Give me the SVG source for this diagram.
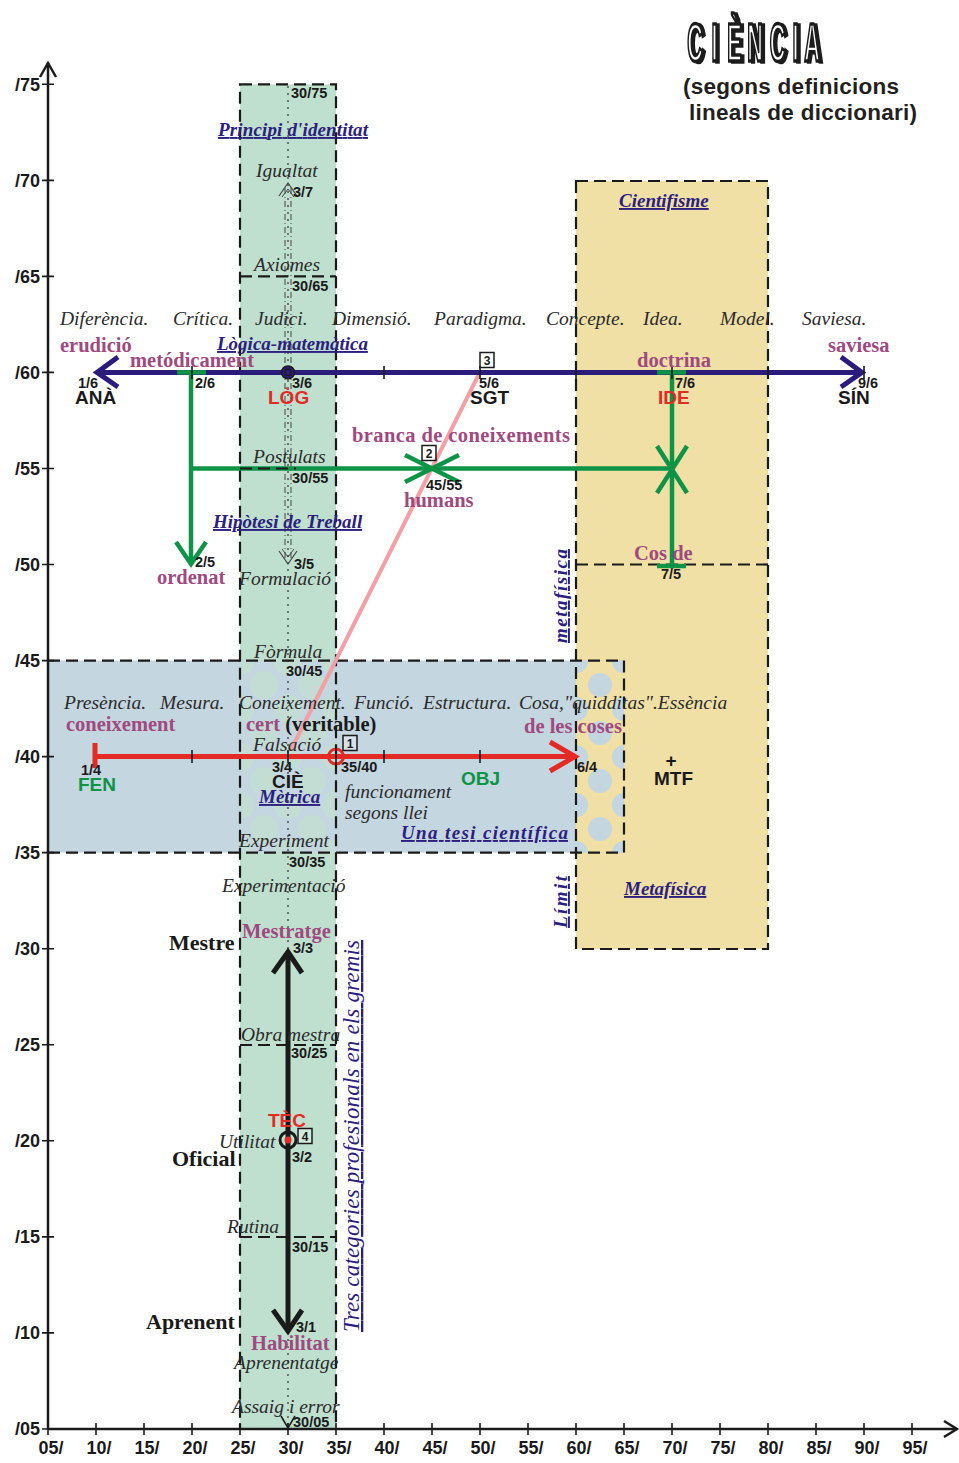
<svg xmlns="http://www.w3.org/2000/svg" width="959" height="1463" viewBox="0 0 959 1463">
<defs>
<style>
.it{font-family:'Liberation Serif','Times New Roman',serif;font-style:italic;font-size:19.5px;fill:#2b2b2b}
.pu{font-family:'Liberation Serif','Times New Roman',serif;font-weight:bold;font-size:20.5px;fill:#9f4a7f}
.nv{font-family:'Liberation Serif','Times New Roman',serif;font-weight:bold;font-style:italic;font-size:19px;fill:#2b2080;text-decoration:underline}
.bk{font-family:'Liberation Serif','Times New Roman',serif;font-weight:bold;font-size:22px;fill:#1a1a1a}
.co{font-family:'Liberation Sans',Arial,sans-serif;font-weight:bold;font-size:14.5px;fill:#1a1a1a}
.ab{font-family:'Liberation Sans',Arial,sans-serif;font-weight:bold;font-size:19px}
.ax{font-family:'Liberation Sans',Arial,sans-serif;font-weight:bold;font-size:18px;fill:#1a1a1a}
.bx{font-family:'Liberation Sans',Arial,sans-serif;font-weight:bold;font-size:12px;fill:#1a1a1a}
.dash{fill:none;stroke:#1a1a1a;stroke-width:2.2;stroke-dasharray:12 6}
.tick{stroke:#1a1a1a;stroke-width:1.6}
.navy{stroke:#2b1b7b;stroke-width:5;fill:none}
.grn{stroke:#0d9447;stroke-width:4.5;fill:none}
.red{stroke:#e42a25;stroke-width:5;fill:none}
.blk{stroke:#1a1a1a;stroke-width:5;fill:none}
.ttl{font-family:'Liberation Sans',Arial,sans-serif;font-weight:bold;font-size:54px;text-anchor:middle}
.sq{fill:#ffffff;fill-opacity:0.3;stroke:#1a1a1a;stroke-width:1.5}
</style>
<filter id="shadow" x="-10%" y="-30%" width="130%" height="160%">
<feOffset in="SourceAlpha" dx="7" dy="1" result="off"/>
<feFlood flood-color="#1a1a1a"/>
<feComposite in2="off" operator="in" result="sh"/>
<feMerge><feMergeNode in="sh"/><feMergeNode in="SourceGraphic"/></feMerge>
</filter>
<pattern id="dotsY" patternUnits="userSpaceOnUse" x="576" y="661" width="48" height="48">
<rect width="48" height="48" fill="#f0e0a6"/>
<circle cx="24" cy="24" r="12" fill="#c4d6df"/>
<circle cx="0" cy="0" r="12" fill="#c4d6df"/>
<circle cx="48" cy="0" r="12" fill="#c4d6df"/>
<circle cx="0" cy="48" r="12" fill="#c4d6df"/>
<circle cx="48" cy="48" r="12" fill="#c4d6df"/>
</pattern>
<pattern id="dotsG" patternUnits="userSpaceOnUse" x="240" y="661" width="48" height="48">
<rect width="48" height="48" fill="#c4d6df"/>
<circle cx="24" cy="24" r="14" fill="#c3ddd5"/>
<circle cx="0" cy="0" r="14" fill="#c3ddd5"/>
<circle cx="48" cy="0" r="14" fill="#c3ddd5"/>
<circle cx="0" cy="48" r="14" fill="#c3ddd5"/>
<circle cx="48" cy="48" r="14" fill="#c3ddd5"/>
</pattern>
</defs>
<rect width="959" height="1463" fill="#ffffff"/>

<g id="areas">
<rect id="green-column" x="240" y="84.3" width="96" height="1344.7" fill="#bfe0cf"/>
<rect id="yellow-box" x="576" y="181" width="192" height="768" fill="#f0e0a6"/>
<rect id="blue-box" x="48" y="660.6" width="576" height="192" fill="#c4d6df"/>
<rect x="576" y="660.6" width="48" height="192" fill="url(#dotsY)"/>
<rect x="240" y="660.6" width="96" height="192" fill="url(#dotsG)"/>
</g>

<g id="center-axis">
<line x1="288" y1="86" x2="288" y2="1427" stroke="#333" stroke-width="1.2" stroke-dasharray="2 5"/>
<line x1="285" y1="188" x2="285" y2="558" stroke="#444" stroke-width="1" stroke-dasharray="6 3 1 3"/>
<line x1="291" y1="188" x2="291" y2="558" stroke="#444" stroke-width="1" stroke-dasharray="6 3 1 3"/>
<polyline points="279,196 288,183 297,196" fill="none" stroke="#444" stroke-width="1.2"/>
<polyline points="282,197 288,189 294,197" fill="none" stroke="#444" stroke-width="1"/>
<polyline points="279,551 288,564 297,551" fill="none" stroke="#444" stroke-width="1.2"/>
<polyline points="282,549 288,557 294,549" fill="none" stroke="#444" stroke-width="1"/>
<polyline points="281,1416 288,1428 295,1416" fill="none" stroke="#1a1a1a" stroke-width="1.5"/>
</g>

<g id="borders">
<rect class="dash" x="240" y="84.3" width="96" height="1344.7"/>
<line class="dash" x1="240" y1="276.4" x2="336" y2="276.4"/>
<line class="dash" x1="240" y1="1045" x2="336" y2="1045"/>
<line class="dash" x1="240" y1="1237" x2="336" y2="1237"/>
<rect class="dash" x="576" y="181" width="192" height="768"/>
<line class="dash" x1="576" y1="564.5" x2="768" y2="564.5"/>
<polyline class="dash" points="48,660.6 624,660.6 624,852.6 48,852.6"/>
</g>

<g id="axes" fill="none" stroke="#1a1a1a" stroke-width="2.5">
<line x1="48" y1="1429" x2="48" y2="63"/>
<polyline points="40,77 48,63 56,77"/>
<line x1="48" y1="1429" x2="956" y2="1429"/>
<polyline points="944,1421 957,1429 944,1437"/>
<path class="tick" d="M42 84.3H54M42 180.4H54M42 276.4H54M42 372.4H54M42 468.5H54M42 564.5H54M42 660.6H54M42 756.6H54M42 852.6H54M42 948.7H54M42 1044.8H54M42 1140.8H54M42 1236.9H54M42 1332.9H54M42 1429H54"/>
<path class="tick" d="M48 1423V1435M96 1423V1435M144 1423V1435M192 1423V1435M240 1423V1435M288 1423V1435M336 1423V1435M384 1423V1435M432 1423V1435M480 1423V1435M528 1423V1435M576 1423V1435M624 1423V1435M672 1423V1435M720 1423V1435M768 1423V1435M816 1423V1435M864 1423V1435M912 1423V1435"/>
</g>
<g id="axis-labels" class="ax">
<text x="40" y="91" text-anchor="end">/75</text>
<text x="40" y="187" text-anchor="end">/70</text>
<text x="40" y="283" text-anchor="end">/65</text>
<text x="40" y="379" text-anchor="end">/60</text>
<text x="40" y="475" text-anchor="end">/55</text>
<text x="40" y="571" text-anchor="end">/50</text>
<text x="40" y="667" text-anchor="end">/45</text>
<text x="40" y="763" text-anchor="end">/40</text>
<text x="40" y="859" text-anchor="end">/35</text>
<text x="40" y="955" text-anchor="end">/30</text>
<text x="40" y="1051" text-anchor="end">/25</text>
<text x="40" y="1147" text-anchor="end">/20</text>
<text x="40" y="1243" text-anchor="end">/15</text>
<text x="40" y="1339" text-anchor="end">/10</text>
<text x="40" y="1435" text-anchor="end">/05</text>
<g text-anchor="middle">
<text x="51" y="1454">05/</text><text x="99" y="1454">10/</text><text x="147" y="1454">15/</text><text x="195" y="1454">20/</text>
<text x="243" y="1454">25/</text><text x="291" y="1454">30/</text><text x="339" y="1454">35/</text><text x="387" y="1454">40/</text>
<text x="435" y="1454">45/</text><text x="483" y="1454">50/</text><text x="531" y="1454">55/</text><text x="579" y="1454">60/</text>
<text x="627" y="1454">65/</text><text x="675" y="1454">70/</text><text x="723" y="1454">75/</text><text x="771" y="1454">80/</text>
<text x="819" y="1454">85/</text><text x="867" y="1454">90/</text><text x="915" y="1454">95/</text>
</g>
</g>

<g id="connectors">
<line id="pink-line" x1="480" y1="372" x2="291" y2="750" stroke="#f2a0a6" stroke-width="4"/>
<g id="navy-axis">
<line class="navy" x1="98" y1="372.4" x2="862" y2="372.4"/>
<polyline class="navy" points="118,357 97,372.4 118,387" stroke-width="6"/>
<polyline class="navy" points="841,357 862,372.4 841,387" stroke-width="6"/>
<path class="tick" d="M384 366V379M480 366V379M576 366V379M768 366V379M864 366V379"/>
</g>
<g id="green-links">
<line class="grn" x1="177" y1="372.4" x2="206" y2="372.4"/>
<line class="grn" x1="191" y1="372" x2="191" y2="563"/>
<polyline class="grn" points="176,542 191,564 206,542"/>
<line class="grn" x1="191" y1="468.5" x2="672" y2="468.5"/>
<path class="grn" d="M405 455L459 482M405 482L459 455"/>
<line class="grn" x1="657" y1="372.4" x2="686" y2="372.4"/>
<line class="grn" x1="672" y1="372" x2="672" y2="565"/>
<line class="grn" x1="657" y1="566" x2="686" y2="566"/>
<path class="grn" d="M657 446L687 493M687 446L657 493"/>
<path class="tick" d="M192 366V379M672 366V379"/>
</g>
<line class="dash" x1="240" y1="468.5" x2="296" y2="468.5"/>
<g id="red-axis">
<line class="red" x1="96" y1="756.6" x2="572" y2="756.6"/>
<line class="red" x1="95" y1="743" x2="95" y2="768"/>
<polyline class="red" points="550,742 575,756.6 550,771" stroke-width="6"/>
<path class="tick" d="M192 750V763M288 750V763M384 750V763M480 750V763"/>
</g>
<g id="black-axis">
<line class="blk" x1="288" y1="955" x2="288" y2="1329"/>
<polyline class="blk" points="273,973 288,952 302,973"/>
<polyline class="blk" points="273,1310 288,1331 302,1310"/>
</g>
</g>

<g id="markers">
<circle cx="288" cy="372.4" r="6.5" fill="#2b1b7b" stroke="#1a1a1a" stroke-width="1.5"/>
<circle cx="288" cy="372.4" r="3.2" fill="none" stroke="#1a1a1a" stroke-width="1.3"/>
<circle cx="336" cy="756.6" r="7.5" fill="none" stroke="#e42a25" stroke-width="3"/>
<line x1="336" y1="747" x2="336" y2="766" class="tick"/>
<circle cx="288" cy="1140" r="8" fill="none" stroke="#1a1a1a" stroke-width="3"/>
<circle cx="288" cy="1140" r="3.5" fill="#e42a25"/>
</g>

<g id="boxes">
<g id="box1"><rect class="sq" x="343" y="735.5" width="14" height="15"/><text class="bx" x="350" y="748" text-anchor="middle">1</text></g>
<g id="box2"><rect class="sq" x="422" y="445.5" width="14" height="15"/><text class="bx" x="429" y="458" text-anchor="middle">2</text></g>
<g id="box3"><rect class="sq" x="480" y="352.5" width="14" height="15"/><text class="bx" x="487" y="365" text-anchor="middle">3</text></g>
<g id="box4"><rect class="sq" x="298" y="1128.5" width="14" height="15"/><text class="bx" x="305" y="1141" text-anchor="middle">4</text></g>
</g>

<g id="title">
<text class="ttl" transform="translate(0,61) scale(0.4,1)" x="1737.5 1786.25 1836.25 1887.5 1943.75 1988.75 2030" y="0" fill="#ffffff" stroke="#1a1a1a" stroke-width="3.5" filter="url(#shadow)">CIÈNCIA</text>
<text x="683" y="94" font-family="'Liberation Sans',Arial,sans-serif" font-weight="bold" font-size="22.5" fill="#231f20" textLength="216">(segons definicions</text>
<text x="689" y="120" font-family="'Liberation Sans',Arial,sans-serif" font-weight="bold" font-size="22.5" fill="#231f20" textLength="228">lineals de diccionari)</text>
</g>

<g id="row-60-terms" class="it">
<text x="60" y="325">Diferència.</text>
<text x="173" y="325">Crítica.</text>
<text x="255" y="325">Judici.</text>
<text x="332" y="325">Dimensió.</text>
<text x="434" y="325">Paradigma.</text>
<text x="546" y="325">Concepte.</text>
<text x="643" y="325">Idea.</text>
<text x="720" y="325">Model.</text>
<text x="802" y="325">Saviesa.</text>
</g>
<g id="row-40-terms" class="it">
<text x="64" y="709">Presència.</text>
<text x="160" y="709">Mesura.</text>
<text x="239" y="709">Coneixement.</text>
<text x="354" y="709">Funció.</text>
<text x="423" y="709">Estructura.</text>
<text x="519" y="709">Cosa,"quidditas".Essència</text>
</g>

<g id="node-ANA"><text class="co" x="78" y="388">1/6</text><text class="ab" x="75" y="404" fill="#1a1a1a">ANÀ</text><text class="pu" x="60" y="352">erudició</text></g>
<g id="node-2-6"><text class="co" x="195" y="388">2/6</text><text class="pu" x="130" y="367">metódicament</text></g>
<g id="node-LOG"><text class="co" x="292" y="388">3/6</text><text class="ab" x="268" y="404" fill="#e42a25">LÒG</text><text class="nv" x="217" y="350">Lògica-matemàtica</text></g>
<g id="node-SGT"><text class="co" x="479" y="388">5/6</text><text class="ab" x="470" y="404" fill="#1a1a1a">SGT</text></g>
<g id="node-IDE"><text class="co" x="675" y="388">7/6</text><text class="ab" x="658" y="404" fill="#e42a25">IDE</text><text class="pu" x="637" y="367">doctrina</text></g>
<g id="node-SIN"><text class="co" x="858" y="388">9/6</text><text class="ab" x="838" y="404" fill="#1a1a1a">SÍN</text><text class="pu" x="828" y="352">saviesa</text></g>
<g id="node-45-55"><text class="co" x="426" y="490">45/55</text><text class="pu" x="352" y="442" textLength="218">branca de coneixements</text><text class="pu" x="404" y="507">humans</text></g>
<g id="node-2-5"><text class="co" x="195" y="567">2/5</text><text class="pu" x="157" y="584">ordenat</text></g>
<g id="node-7-5"><text class="co" x="661" y="579">7/5</text><text class="pu" x="634" y="560">Cos de</text></g>
<g id="node-FEN"><text class="co" x="81" y="775">1/4</text><text class="ab" x="78" y="791" fill="#0d9447">FEN</text><text class="pu" x="66" y="731">coneixement</text></g>
<g id="node-CIE"><text class="co" x="272" y="772">3/4</text><text class="ab" x="272" y="788" fill="#1a1a1a">CIÈ</text>
<text x="246" y="731"><tspan class="pu">cert </tspan><tspan font-family="'Liberation Serif','Times New Roman',serif" font-weight="bold" font-size="20.5" fill="#1a1a1a">(veritable)</tspan></text>
<text class="nv" x="259" y="803">Mètrica</text></g>
<g id="node-35-40"><text class="co" x="341" y="772">35/40</text>
<text class="it" x="345" y="798" font-size="17">funcionament</text><text class="it" x="345" y="819" font-size="17">segons llei</text>
<text class="nv" x="401" y="839" font-size="21.5" textLength="167">Una tesi científica</text></g>
<g id="node-OBJ"><text class="ab" x="461" y="785" fill="#0d9447">OBJ</text></g>
<g id="node-6-4"><text class="co" x="577" y="772">6/4</text><text class="pu" x="524" y="733">de les coses</text></g>
<g id="node-MTF"><text class="ab" x="671" y="767" text-anchor="middle" font-size="16" fill="#1a1a1a">+</text><text class="ab" x="654" y="785" fill="#1a1a1a">MTF</text></g>
<g id="node-cientifisme"><text class="nv" x="619" y="207">Cientifisme</text></g>
<g id="node-metafisica"><text class="nv" x="624" y="895">Metafísica</text>
<text class="nv" transform="translate(567,643) rotate(-90)" font-size="22" textLength="94">metafísica</text>
<text class="nv" transform="translate(567,928) rotate(-90)" font-size="22" textLength="52">Límit</text></g>

<g id="column-labels">
<text class="co" x="291" y="98">30/75</text>
<text class="nv" x="218" y="136" textLength="150">Principi d'identitat</text>
<text class="it" x="256" y="177">Igualtat</text>
<text class="co" x="293" y="197">3/7</text>
<text class="it" x="254" y="271">Axiomes</text>
<text class="co" x="292" y="291">30/65</text>
<text class="it" x="253" y="463">Postulats</text>
<text class="co" x="292" y="483">30/55</text>
<text class="nv" x="213" y="528">Hipòtesi de Treball</text>
<text class="co" x="294" y="569">3/5</text>
<text class="it" x="239" y="585">Formulació</text>
<text class="it" x="254" y="658">Fòrmula</text>
<text class="co" x="286" y="676">30/45</text>
<text class="it" x="253" y="751">Falsació</text>
<text class="it" x="239" y="847">Experiment</text>
<text class="co" x="289" y="867">30/35</text>
<text class="it" x="222" y="892">Experimentació</text>
</g>

<g id="crafts">
<text class="pu" x="242" y="938">Mestratge</text>
<text class="bk" x="169" y="950">Mestre</text>
<text class="co" x="293" y="953">3/3</text>
<text class="it" x="241" y="1041">Obra mestra</text>
<text class="co" x="291" y="1058">30/25</text>
<text class="ab" x="268" y="1127" fill="#e42a25">TÈC</text>
<text class="it" x="219" y="1148">Utilitat</text>
<text class="co" x="292" y="1162">3/2</text>
<text class="bk" x="172" y="1166">Oficial</text>
<text class="it" x="227" y="1233">Rutina</text>
<text class="co" x="292" y="1252">30/15</text>
<text class="bk" x="146" y="1329">Aprenent</text>
<text class="co" x="296" y="1332">3/1</text>
<text class="pu" x="251" y="1350">Habilitat</text>
<text class="it" x="234" y="1369">Aprenentatge</text>
<text class="it" x="232" y="1413">Assaig i error</text>
<text class="co" x="293" y="1427">30/05</text>
<text transform="translate(359,1332) rotate(-90)" font-family="'Liberation Serif','Times New Roman',serif" font-style="italic" font-size="23" fill="#2b2080" text-decoration="underline" textLength="392">Tres categories profesionals en els gremis</text>
</g>
</svg>
